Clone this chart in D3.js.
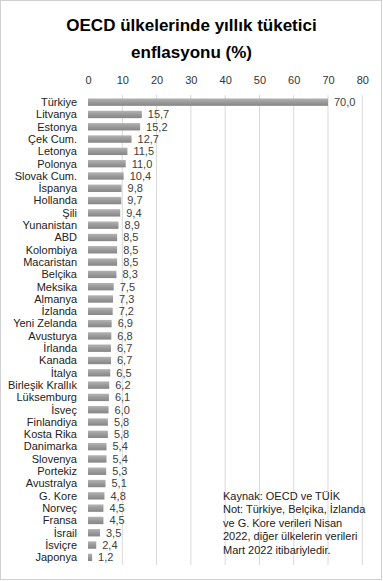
<!DOCTYPE html>
<html>
<head>
<meta charset="utf-8">
<script src="https://cdn.jsdelivr.net/npm/d3@7"></script>
<style>
    body { margin: 0; background: #fff; }
    svg { display: block; }
</style>
</head>
<body>
<script>
// country names, top to bottom
var countries = ["Türkiye", "Litvanya", "Estonya", "Çek Cum.", "Letonya", "Polonya",
    "Slovak Cum.", "İspanya", "Hollanda", "Şili", "Yunanistan", "ABD", "Kolombiya",
    "Macaristan", "Belçika", "Meksika", "Almanya", "İzlanda", "Yeni Zelanda", "Avusturya",
    "İrlanda", "Kanada", "İtalya", "Birleşik Krallık", "Lüksemburg", "İsveç", "Finlandiya",
    "Kosta Rika", "Danimarka", "Slovenya", "Portekiz", "Avustralya", "G. Kore", "Norveç",
    "Fransa", "İsrail", "İsviçre", "Japonya"];

// yearly consumer inflation (%)
var inflation = [70.0, 15.7, 15.2, 12.7, 11.5, 11.0, 10.4, 9.8, 9.7, 9.4, 8.9, 8.5, 8.5,
    8.5, 8.3, 7.5, 7.3, 7.2, 6.9, 6.8, 6.7, 6.7, 6.5, 6.2, 6.1, 6.0, 5.8, 5.8, 5.4, 5.4,
    5.3, 5.1, 4.8, 4.5, 4.5, 3.5, 2.4, 1.2];

var ticks = [0, 10, 20, 30, 40, 50, 60, 70, 80];

var titleLines = ["OECD ülkelerinde yıllık tüketici", "enflasyonu (%)"];
var noteLines = ["Kaynak: OECD ve TÜİK", "Not: Türkiye, Belçika, İzlanda",
    "ve G. Kore verileri Nisan", "2022, diğer ülkelerin verileri", "Mart 2022 itibariyledir."];

var width = 383;
var height = 581;
var font = "'Liberation Sans', Arial, sans-serif";

var data = countries.map(function(c, i) { return {name: c, value: inflation[i]}; });

var svg = d3.select("body")
    .append("svg")
    .attr("width", width)
    .attr("height", height)
    .style("font-family", font);

// outer border of the chart area
svg.append("rect")
    .attr("x", 0.5).attr("y", 0.5)
    .attr("width", width - 2).attr("height", height - 2)
    .attr("fill", "#fff")
    .attr("stroke", "#d0d0d0");

var defs = svg.append("defs");

// gradient for the bars
var grad = defs.append("linearGradient")
    .attr("id", "barGrad")
    .attr("x1", 0).attr("y1", 0).attr("x2", 0).attr("y2", 1);
grad.append("stop").attr("offset", "0%").attr("stop-color", "#b4b4b4");
grad.append("stop").attr("offset", "45%").attr("stop-color", "#9c9c9c");
grad.append("stop").attr("offset", "100%").attr("stop-color", "#858585");

// soft edge like the excel shadow
defs.append("filter")
    .attr("id", "soft")
    .attr("x", "-5%").attr("y", "-50%")
    .attr("width", "110%").attr("height", "200%")
    .append("feGaussianBlur")
    .attr("stdDeviation", 0.6);

// title
svg.append("text")
    .attr("x", width / 2)
    .attr("text-anchor", "middle")
    .attr("font-weight", "bold")
    .attr("font-size", 17)
    .attr("fill", "#000")
    .selectAll("tspan")
    .data(titleLines)
    .enter()
    .append("tspan")
    .attr("x", width / 2)
    .attr("y", function(d, i) { return 31 + i * 27; })
    .text(function(d) { return d; });

var x = d3.scaleLinear()
    .domain([0, 80])
    .range([88, 362.3]);

var y = d3.scaleBand()
    .domain(countries)
    .range([96, 563.5])
    .paddingInner(0.4)
    .paddingOuter(0.2);

// gridlines
svg.append("g")
    .selectAll("line")
    .data(ticks.slice(1))
    .enter()
    .append("line")
    .attr("x1", function(d) { return x(d); })
    .attr("x2", function(d) { return x(d); })
    .attr("y1", 95)
    .attr("y2", 565)
    .attr("stroke", "#d9d9d9")
    .attr("stroke-width", 1);

// top axis
var axis = svg.append("g")
    .attr("transform", "translate(0,84)")
    .call(d3.axisTop(x).tickValues(ticks).tickSize(0).tickPadding(0));
axis.select(".domain").remove();
axis.selectAll("text")
    .attr("font-family", font)
    .attr("font-size", 11)
    .attr("fill", "#333");

// bars
svg.append("g")
    .attr("filter", "url(#soft)")
    .selectAll("rect")
    .data(data)
    .enter()
    .append("rect")
    .attr("x", x(0))
    .attr("y", function(d) { return y(d.name); })
    .attr("width", function(d) { return x(d.value) - x(0); })
    .attr("height", y.bandwidth())
    .attr("fill", "url(#barGrad)");

// country labels
svg.append("g")
    .selectAll("text")
    .data(data)
    .enter()
    .append("text")
    .attr("x", 77)
    .attr("y", function(d) { return y(d.name) + y.bandwidth() / 2; })
    .attr("dy", "0.35em")
    .attr("text-anchor", "end")
    .attr("font-size", 11)
    .attr("fill", "#222")
    .text(function(d) { return d.name; });

// value labels
svg.append("g")
    .selectAll("text")
    .data(data)
    .enter()
    .append("text")
    .attr("x", function(d) { return x(d.value) + 6; })
    .attr("y", function(d) { return y(d.name) + y.bandwidth() / 2; })
    .attr("dy", "0.35em")
    .attr("font-size", 11)
    .attr("fill", "#404040")
    .text(function(d) { return d.value.toFixed(1).replace(".", ","); });

// source / note
svg.append("text")
    .attr("font-size", 11)
    .attr("fill", "#222")
    .selectAll("tspan")
    .data(noteLines)
    .enter()
    .append("tspan")
    .attr("x", 223)
    .attr("y", function(d, i) { return 500 + i * 13.4; })
    .text(function(d) { return d; });
</script>
</body>
</html>
